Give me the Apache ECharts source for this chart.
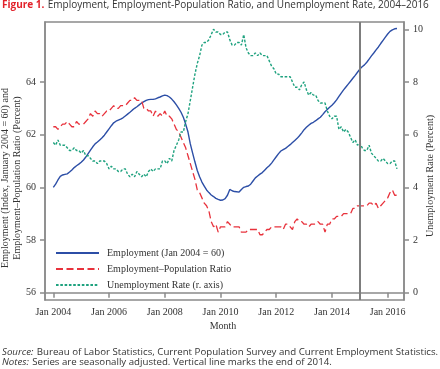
<!DOCTYPE html>
<html><head><meta charset="utf-8">
<script src="https://cdn.jsdelivr.net/npm/echarts@6/dist/echarts.min.js"></script>
<style>html,body{margin:0;padding:0;background:#fff}#c{width:440px;height:369px}</style>
</head><body><div id="c"></div>
<script>
// Monthly data, Jan 2004 – May 2016
const startYear = 2004;
const employment = [
60.00,60.12,60.28,60.42,60.47,60.49,60.51,60.58,60.66,60.75,60.82,60.88,
60.95,61.04,61.15,61.28,61.41,61.54,61.65,61.72,61.80,61.88,61.98,62.10,
62.22,62.34,62.45,62.51,62.55,62.59,62.64,62.71,62.78,62.85,62.93,63.00,
63.06,63.13,63.20,63.25,63.30,63.33,63.34,63.34,63.36,63.40,63.43,63.47,
63.50,63.48,63.43,63.35,63.25,63.13,63.00,62.85,62.66,62.40,62.10,61.65,
61.30,60.96,60.64,60.40,60.20,60.05,59.90,59.80,59.71,59.65,59.58,59.54,
59.51,59.52,59.57,59.70,59.92,59.87,59.84,59.83,59.82,59.92,60.00,60.03,
60.05,60.12,60.24,60.36,60.43,60.50,60.56,60.65,60.74,60.82,60.92,61.04,
61.16,61.28,61.38,61.43,61.48,61.55,61.62,61.70,61.78,61.86,61.96,62.07,
62.19,62.28,62.36,62.43,62.47,62.53,62.60,62.66,62.76,62.87,62.96,63.04,
63.12,63.21,63.32,63.45,63.58,63.70,63.81,63.92,64.03,64.14,64.25,64.37,
64.49,64.58,64.65,64.75,64.87,64.99,65.10,65.22,65.33,65.46,65.58,65.70,
65.82,65.92,65.98,66.02,66.03
];
const epop = [
62.3,62.3,62.2,62.3,62.4,62.4,62.5,62.4,62.3,62.3,62.5,62.4,
62.4,62.4,62.5,62.6,62.8,62.7,62.9,62.8,62.8,62.7,62.8,62.9,
62.9,63.0,63.1,63.0,63.0,63.1,63.1,63.1,63.2,63.3,63.3,63.4,
63.3,63.3,63.3,63.0,63.0,62.9,62.9,62.7,62.9,62.7,62.8,62.7,
62.9,62.7,62.7,62.6,62.4,62.2,62.1,61.9,61.7,61.5,61.2,60.9,
60.6,60.3,59.9,59.8,59.6,59.4,59.3,59.1,58.7,58.5,58.6,58.3,
58.5,58.5,58.5,58.7,58.6,58.5,58.5,58.5,58.5,58.3,58.3,58.3,
58.4,58.4,58.4,58.4,58.4,58.2,58.2,58.3,58.4,58.4,58.5,58.5,
58.5,58.5,58.5,58.4,58.6,58.6,58.5,58.4,58.7,58.8,58.7,58.7,
58.6,58.6,58.5,58.6,58.6,58.6,58.7,58.6,58.6,58.3,58.6,58.6,
58.8,58.8,58.9,58.9,58.9,59.0,59.0,59.0,59.0,59.2,59.2,59.3,
59.3,59.3,59.3,59.3,59.4,59.4,59.3,59.4,59.2,59.3,59.4,59.5,
59.6,59.8,59.9,59.7,59.7
];
const unemployment = [
5.7,5.6,5.8,5.6,5.6,5.6,5.5,5.4,5.4,5.5,5.4,5.4,
5.3,5.4,5.2,5.2,5.1,5.0,5.0,4.9,5.0,5.0,5.0,4.9,
4.7,4.8,4.7,4.7,4.6,4.6,4.7,4.7,4.5,4.4,4.5,4.4,
4.6,4.5,4.4,4.5,4.4,4.6,4.7,4.6,4.7,4.7,4.7,5.0,
5.0,4.9,5.1,5.0,5.4,5.6,5.8,6.1,6.1,6.5,6.8,7.3,
7.8,8.3,8.7,9.0,9.4,9.5,9.5,9.6,9.8,10.0,9.9,9.9,
9.8,9.8,9.9,9.9,9.6,9.4,9.4,9.5,9.5,9.4,9.8,9.3,
9.1,9.0,9.0,9.1,9.0,9.1,9.0,9.0,9.0,8.8,8.6,8.5,
8.3,8.3,8.2,8.2,8.2,8.2,8.2,8.0,7.8,7.8,7.7,7.9,
8.0,7.7,7.5,7.6,7.5,7.5,7.3,7.2,7.2,7.2,6.9,6.7,
6.6,6.7,6.7,6.2,6.3,6.1,6.2,6.1,5.9,5.7,5.8,5.6,
5.7,5.5,5.4,5.4,5.6,5.3,5.2,5.1,5.0,5.0,5.1,5.0,
4.9,4.9,5.0,5.0,4.7
];
const xTickYears = [2004, 2006, 2008, 2010, 2012, 2014, 2016];
const leftTicks = [56, 58, 60, 62, 64];
const rightTicks = [0, 2, 4, 6, 8, 10];
const endOf2014 = 2015;
const seriesNames = ['Employment (Jan 2004 = 60)', 'Employment\u2013Population Ratio', 'Unemployment Rate (r. axis)'];

const toXY = arr => arr.map((v, i) => [startYear + i / 12, v]);
const serif = 'Liberation Serif';
const sans = 'Open Sans';
const axisGray = '#8a8a8a';

const chart = echarts.init(document.getElementById('c'), null, {renderer: 'canvas'});
chart.setOption({
  animation: false,
  backgroundColor: '#fff',
  grid: {left: 45, right: 36, top: 22, bottom: 69, show: true, borderColor: axisGray, borderWidth: 1.5, backgroundColor: 'transparent'},
  xAxis: {
    type: 'value', min: 2003.702, max: 2016.585,
    axisLine: {show: true, lineStyle: {color: axisGray, width: 1.5}},
    axisTick: {show: true, length: 5, customValues: xTickYears, lineStyle: {color: axisGray, width: 1.5}},
    axisLabel: {customValues: xTickYears, margin: 7, formatter: v => 'Jan ' + v, fontFamily: serif, fontSize: 10, color: '#333'},
    splitLine: {show: false}
  },
  yAxis: [{
    type: 'value', min: 55.723, max: 66.277, position: 'left',
    axisLine: {show: true, lineStyle: {color: axisGray, width: 1.5}},
    axisTick: {show: true, length: 5, customValues: leftTicks, lineStyle: {color: axisGray, width: 1.5}},
    axisLabel: {customValues: leftTicks, margin: 9, fontFamily: serif, fontSize: 10, color: '#333'},
    splitLine: {show: false}
  }, {
    type: 'value', min: -0.277, max: 10.277, position: 'right',
    axisLine: {show: true, lineStyle: {color: axisGray, width: 1.5}},
    axisTick: {show: true, length: 5, customValues: rightTicks, lineStyle: {color: axisGray, width: 1.5}},
    axisLabel: {customValues: rightTicks, margin: 9, fontFamily: serif, fontSize: 10, color: '#333'},
    splitLine: {show: false}
  }],
  legend: {
    orient: 'vertical', left: 55, top: 248, padding: 0,
    itemWidth: 43, itemHeight: 10, itemGap: 6,
    itemStyle: {opacity: 0},
    textStyle: {fontFamily: serif, fontSize: 10, color: '#333', lineHeight: 10, padding: [0, 0, 0, 3]},
    data: seriesNames
  },
  series: [{
    name: seriesNames[0], type: 'line', yAxisIndex: 0, symbol: 'none',
    data: toXY(employment),
    lineStyle: {color: '#2c4ea6', width: 1.4}, itemStyle: {color: '#2c4ea6'},
    markLine: {silent: true, symbol: ['none', 'none'], label: {show: false},
      lineStyle: {color: '#7d7d7d', width: 2, type: 'solid'}, data: [{xAxis: endOf2014}]}
  }, {
    name: seriesNames[1], type: 'line', yAxisIndex: 0, symbol: 'none',
    data: toXY(epop),
    lineStyle: {color: '#e8323c', width: 1.3, type: [7, 3.5]}, itemStyle: {color: '#e8323c'}
  }, {
    name: seriesNames[2], type: 'line', yAxisIndex: 1, symbol: 'none',
    data: toXY(unemployment),
    lineStyle: {color: '#1fa27f', width: 1.4, type: [2.6, 1.7]}, itemStyle: {color: '#1fa27f'}
  }],
  graphic: [
    {type: 'text', left: 2, top: -1, style: {
      text: '{r|Figure 1.} {t|Employment, Employment-Population Ratio, and Unemployment Rate, 2004\u20132016}',
      rich: {r: {fontFamily: sans, fontSize: 10, fontWeight: 'bold', fill: '#e2222b'},
             t: {fontFamily: sans, fontSize: 10, fill: '#333'}}}},
    {type: 'text', x: 5.5, y: 178, rotation: Math.PI / 2, style: {
      text: 'Employment (Index, January 2004 = 60) and', fontFamily: serif, fontSize: 10, fill: '#333',
      textAlign: 'center', textVerticalAlign: 'middle'}},
    {type: 'text', x: 17.5, y: 178, rotation: Math.PI / 2, style: {
      text: 'Employment\u2013Population Ratio (Percent)', fontFamily: serif, fontSize: 10, fill: '#333',
      textAlign: 'center', textVerticalAlign: 'middle'}},
    {type: 'text', x: 430.5, y: 176, rotation: Math.PI / 2, style: {
      text: 'Unemployment Rate (Percent)', fontFamily: serif, fontSize: 10, fill: '#333',
      textAlign: 'center', textVerticalAlign: 'middle'}},
    {type: 'text', x: 223, y: 326, style: {
      text: 'Month', fontFamily: serif, fontSize: 10, fill: '#333',
      textAlign: 'center', textVerticalAlign: 'middle'}},
    {type: 'text', x: 2, y: 352, style: {
      text: '{i|Source:} {n|Bureau of Labor Statistics, Current Population Survey and Current Employment Statistics.}',
      textVerticalAlign: 'middle',
      rich: {i: {fontFamily: sans, fontSize: 9.7, fontStyle: 'italic', fill: '#333'},
             n: {fontFamily: sans, fontSize: 9.7, fill: '#333'}}}},
    {type: 'text', x: 2, y: 362.5, style: {
      text: '{i|Notes:} {n|Series are seasonally adjusted. Vertical line marks the end of 2014.}',
      textVerticalAlign: 'middle',
      rich: {i: {fontFamily: sans, fontSize: 9.7, fontStyle: 'italic', fill: '#333'},
             n: {fontFamily: sans, fontSize: 9.7, fill: '#333'}}}}
  ]
});
</script></body></html>
